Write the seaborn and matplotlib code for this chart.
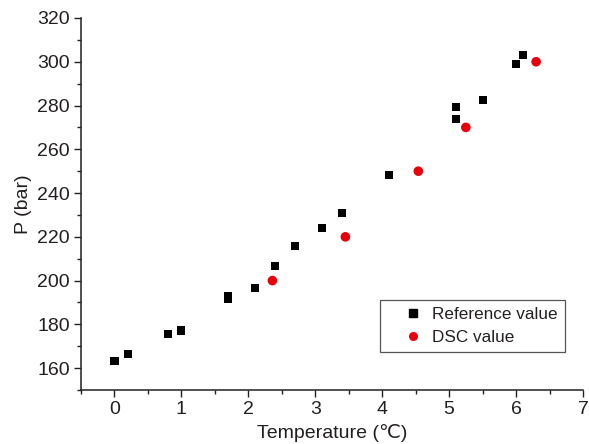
import matplotlib
matplotlib.use("Agg")
import matplotlib.pyplot as plt
from matplotlib.ticker import MultipleLocator
import seaborn as sns
import pandas as pd

# Reference hydrate equilibrium points
ref_temp = [0.0, 0.2, 0.8, 1.0, 1.7, 1.7, 2.1, 2.4, 2.7, 3.1, 3.4, 4.1, 5.1, 5.1, 5.5, 6.0, 6.1]
ref_pressure = [163.2, 166.3, 175.4, 177.2, 192.8, 191.4, 196.6, 206.6, 215.8, 223.9, 231.0,
                248.2, 279.5, 273.7, 282.7, 299.0, 303.1]

# DSC measured points
dsc_temp = [2.36, 3.45, 4.54, 5.25, 6.3]
dsc_pressure = [200, 220, 250, 270, 300]

series_names = ["Reference value", "DSC value"]

ref_df = pd.DataFrame({"T": ref_temp, "P": ref_pressure})
dsc_df = pd.DataFrame({"T": dsc_temp, "P": dsc_pressure})

sns.set_theme(style="ticks")
plt.rcParams["font.family"] = ["Liberation Sans", "DejaVu Sans"]
text_color = "#231f20"
plt.rcParams["text.color"] = text_color
plt.rcParams["axes.labelcolor"] = text_color
plt.rcParams["xtick.color"] = text_color
plt.rcParams["ytick.color"] = text_color

fig = plt.figure(figsize=(5.89, 4.44), dpi=100)
ax = fig.add_axes([0.1375, 0.1216, 0.8523, 0.8379])

sns.scatterplot(data=ref_df, x="T", y="P", marker="s", color="black", s=34,
                edgecolor="none", linewidth=0, ax=ax, label=series_names[0])
sns.scatterplot(data=dsc_df, x="T", y="P", marker="o", color="#e8000b", s=48,
                edgecolor="none", linewidth=0, ax=ax, label=series_names[1])

ax.set_xlim(-0.5, 7)
ax.set_ylim(150, 320)
ax.xaxis.set_major_locator(MultipleLocator(1))
ax.xaxis.set_minor_locator(MultipleLocator(0.5))
ax.yaxis.set_minor_locator(MultipleLocator(10))
ax.set_yticks(range(160, 321, 20))

ax.tick_params(which="major", direction="out", length=5, width=1, labelsize=14, pad=3)
ax.tick_params(which="minor", direction="out", length=3, width=1)
sns.despine(ax=ax)
for side in ("left", "bottom"):
    ax.spines[side].set_color(text_color)
    ax.spines[side].set_linewidth(1.1)

ax.set_xlabel("Temperature (\u2103)", fontsize=14, labelpad=4)
ax.set_ylabel("P (bar)", fontsize=14, labelpad=4)

# legend
handles = [
    plt.Line2D([], [], marker="s", linestyle="none", color="black", markersize=5.5),
    plt.Line2D([], [], marker="o", linestyle="none", color="#e8000b", markeredgewidth=0, markersize=6.5),
]
leg = ax.legend(handles, series_names, loc="lower right", bbox_to_anchor=(0.964, 0.102),
                borderaxespad=0, fontsize=12.3, frameon=True, fancybox=False, framealpha=1,
                edgecolor="#555555", handletextpad=-0.35, borderpad=0.4,
                labelspacing=0.48, handlelength=3.0)
leg.get_frame().set_linewidth(0.9)

fig.savefig("out.png", dpi=100)
